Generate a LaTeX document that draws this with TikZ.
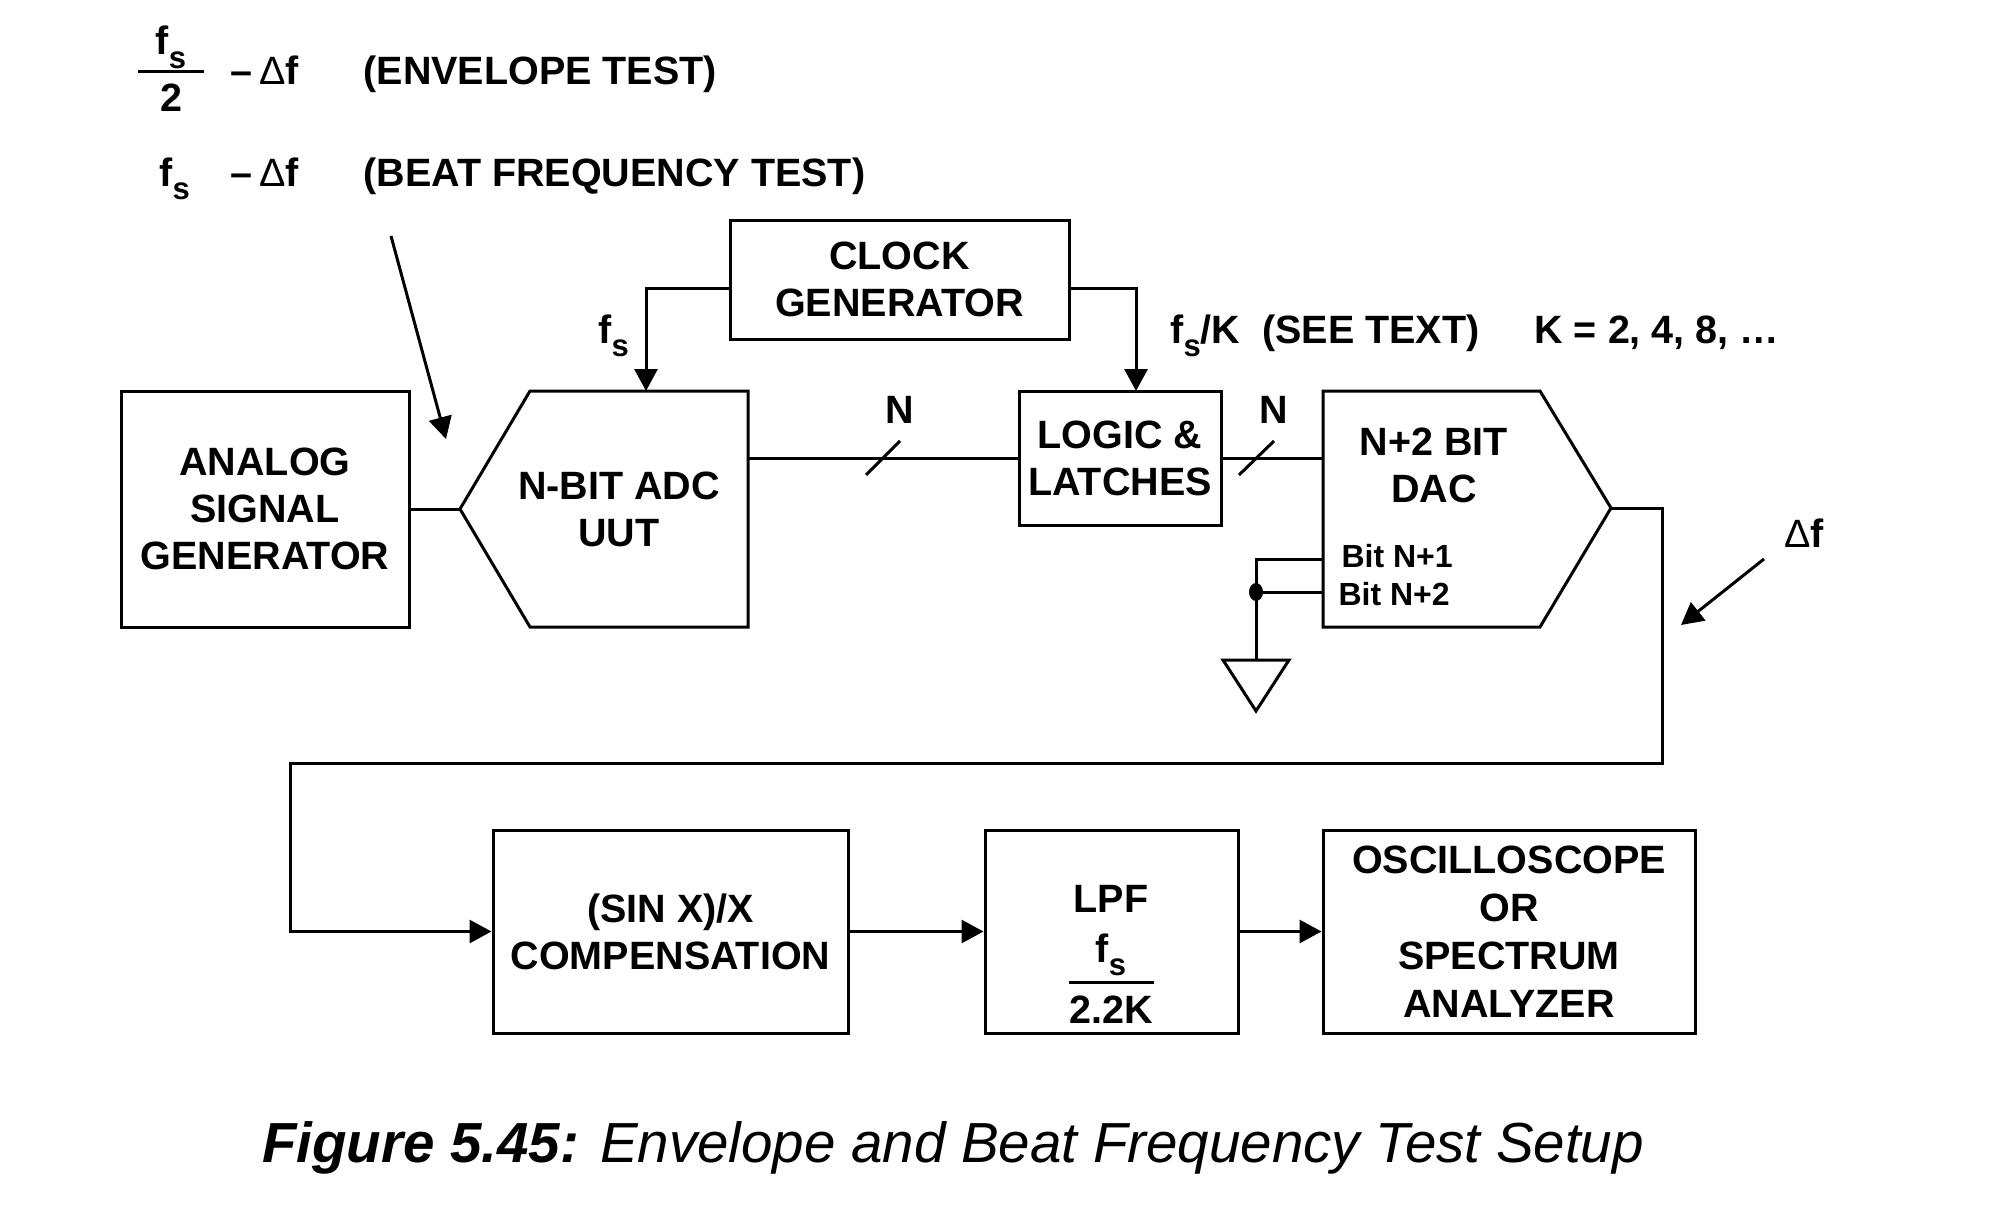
\documentclass[tikz,border=0pt]{standalone}
\usepackage{fontspec}
\setmainfont{Liberation Sans}
\usetikzlibrary{arrows.meta}
\newcommand{\sbs}[1]{\raisebox{-0.33em}{\fontsize{31}{31}\selectfont #1}}
\newcommand{\dlt}{{\mdseries\symbol{"0394}}}
\begin{document}
\begin{tikzpicture}[x=1pt,y=-1pt,line width=3pt,line join=miter,
  txt/.style={font=\fontsize{39.5}{47}\selectfont\bfseries,align=center,inner sep=0pt},
  blk/.style={draw,txt,line width=3pt},
  small/.style={font=\fontsize{32}{36}\selectfont\bfseries,inner sep=0pt},
  arr/.style={-{Triangle[length=22pt,width=23pt]}}]
\path[use as bounding box] (0,0) rectangle (1997,1212);

% top labels
\node[txt,anchor=base] (fsnum) at (171,55) {f\sbs{s}};
\draw (138,72) -- (204,72);
\node[txt,anchor=base] (two) at (171,112) {2};
\node[txt,anchor=base west] (df1) at (229,85) {–\,\dlt f};
\node[txt,anchor=base west] (env) at (362,85) {(ENVELOPE TEST)};
\node[txt,anchor=base west] (fs2) at (158,186) {f\sbs{s}};
\node[txt,anchor=base west] (df2) at (229,186) {–\,\dlt f};
\node[txt,anchor=base west] (beat) at (362,186) {(BEAT FREQUENCY TEST)};
\coordinate (a1) at (391,236);
\coordinate (a2) at (446,439);
\draw[arr] (a1) -- (a2);

% analog signal generator
\node[blk,minimum width=288pt,minimum height=236pt] (asg) at (265,509) {ANALOG\\SIGNAL\\GENERATOR};

% ADC
\draw (460,509) -- (530,391) -- (748,391) -- (748,627) -- (530,627) -- cycle;
\coordinate (adcin) at (460,509);
\coordinate (adcout) at (748,458);
\coordinate (adctop) at (646,391);
\node[txt] (adct) at (619,509) {N-BIT ADC\\UUT};
\draw (asg.east) -- (adcin);

% clock
\node[blk,minimum width=339pt,minimum height=119pt] (clk) at (899.5,279.5) {CLOCK\\GENERATOR};
\coordinate (clkl) at (730,288);
\coordinate (clkr) at (1069,288);
\node[txt,anchor=base west] (fsl) at (597,343) {f\sbs{s}};
\node[txt,anchor=base west] (fsk) at (1169,343) {f\sbs{s}/K\ \ (SEE TEXT)};
\node[txt,anchor=base west] (kval) at (1533,343) {K = 2, 4, 8, …};

% logic & latches
\node[blk,minimum width=202pt,minimum height=134pt] (lat) at (1120,458) {LOGIC \&\\LATCHES};
\coordinate (lattop) at (1136,391);
\draw[arr] (clkl) -| (adctop);
\draw[arr] (clkr) -| (lattop);
\draw (adcout) -- (lat.west);
\draw (866,475) -- (900,441);
\node[txt] (n1) at (900,410) {N};

% DAC
\draw (1323,391) -- (1540,391) -- (1611,508) -- (1540,627) -- (1323,627) -- cycle;
\coordinate (dacin) at (1323,458);
\coordinate (dacout) at (1611,508);
\coordinate (dacb1) at (1323,559);
\coordinate (dacb2) at (1323,592);
\node[txt] (dact) at (1434,465) {N+2 BIT\\DAC};
\node[small,anchor=base west] (b1) at (1340,567) {Bit N+1};
\node[small,anchor=base west] (b2) at (1337,605) {Bit N+2};
\draw (lat.east) -- (dacin);
\draw (1239,475) -- (1274,441);
\node[txt] (n2) at (1274,410) {N};

% ground
\coordinate (gj) at (1256,592);
\coordinate (gnd) at (1256,660);
\draw (dacb1) -| (gnd);
\draw (dacb2) -- (gj);
\fill (gj) ellipse (7pt and 9pt);
\draw (1223,660) -- (1289,660) -- (1256,711) -- cycle;

% delta f
\node[txt,anchor=base west] (dfr) at (1783,547) {\dlt f};
\coordinate (d1) at (1764,559);
\coordinate (d2) at (1681,625);
\draw[arr] (d1) -- (d2);

% bottom row
\node[blk,minimum width=355pt,minimum height=203pt] (sinx) at (670.5,931.5) {(SIN X)/X\\COMPENSATION};
\node[blk,minimum width=253pt,minimum height=203pt] (lpf) at (1111.5,931.5) {};
\node[txt] (lpft) at (1111,899) {LPF};
\node[txt,anchor=base] (lpffs) at (1111,962) {f\sbs{s}};
\draw (1069,982) -- (1154,982);
\node[txt] (lpfk) at (1111,1010) {2.2K};
\node[blk,minimum width=372pt,minimum height=203pt,font=\fontsize{39.5}{48}\selectfont\bfseries] (osc) at (1509,931.5) {OSCILLOSCOPE\\OR\\SPECTRUM\\ANALYZER};

\draw[arr] (dacout) -- (1662,508) -- (1662,763) -- (290,763) |- (sinx.west);
\draw[arr] (sinx.east) -- (lpf.west);
\draw[arr] (lpf.east) -- (osc.west);

% caption
\node[inner sep=0pt,font=\fontsize{56.5}{60}\selectfont] (cap) at (953,1148) {\textbf{\textit{Figure 5.45:}} \textit{Envelope and Beat Frequency Test Setup}};
\end{tikzpicture}
\end{document}
